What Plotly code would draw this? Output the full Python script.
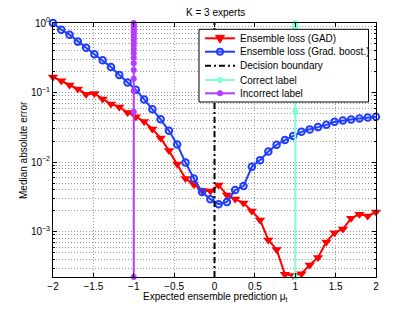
import plotly.graph_objects as go

# ---------------- data ----------------
x_pred = [-2.000, -1.897, -1.795, -1.692, -1.590, -1.487, -1.385, -1.282, -1.179, -1.077,
          -0.974, -0.872, -0.769, -0.667, -0.564, -0.462, -0.359, -0.256, -0.154, -0.051,
          0.051, 0.154, 0.256, 0.359, 0.462, 0.564, 0.667, 0.769, 0.872, 0.974,
          1.077, 1.179, 1.282, 1.385, 1.487, 1.590, 1.692, 1.795, 1.897, 2.000]

loss_gad = [0.168, 0.148, 0.129, 0.1127, 0.0948, 0.0970, 0.0812, 0.0686, 0.0623, 0.0518,
            0.0451, 0.0385, 0.0299, 0.0222, 0.01466, 0.0094, 0.00582, 0.00477, 0.00392, 0.00385,
            0.00469, 0.00337, 0.00296, 0.00259, 0.00199, 0.00148, 0.000762, 0.000557, 0.000245, 0.000236,
            0.000250, 0.000334, 0.000428, 0.000714, 0.000970, 0.001096, 0.00156, 0.00179, 0.00169, 0.00192]

loss_gb = [1.0, 0.80, 0.68, 0.54, 0.44, 0.356, 0.292, 0.234, 0.179, 0.140,
           0.110, 0.0796, 0.0578, 0.0413, 0.0282, 0.0179, 0.00987, 0.00582, 0.00373, 0.00294,
           0.00249, 0.00268, 0.00398, 0.00454, 0.00859, 0.0107, 0.0142, 0.0178, 0.0208, 0.0237,
           0.0273, 0.0296, 0.0319, 0.0344, 0.0380, 0.0398, 0.0411, 0.0425, 0.0439, 0.0448]

label_line_y = [0.000224, 0.0529, 0.1055, 0.1581, 0.2107, 0.2633, 0.3159, 0.3685, 0.4211, 0.4737,
                0.5264, 0.5790, 0.6316, 0.6842, 0.7368, 0.7894, 0.8420, 0.8946, 0.9473, 1.0]
boundary_x = 0.0
correct_x = 1.0
incorrect_x = -1.0
boundary_y = [0.000224, 1.0]

x_ticks = [-2, -1.5, -1, -0.5, 0, 0.5, 1, 1.5, 2]
y_ticks = [1e-3, 1e-2, 1e-1, 1]
y_ticktext = ["10<sup>\u22123</sup>", "10<sup>\u22122</sup>", "10<sup>\u22121</sup>", "10<sup>0</sup>"]
y_minor = [m * 10 ** e for e in (-4, -3, -2, -1) for m in range(2, 10)]

legend_names = ["Ensemble loss (GAD)", "Ensemble loss (Grad. boost.)", "Decision boundary",
                "Correct label", "Incorrect label"]

RED = "#ff0000"
BLUE = "#1f3dff"
BLACK = "#000000"
CYAN = "#7fffd4"
PURPLE = "#b43cff"
GRID = "#9a9a9a"
DOT = "1px,2px"
FONT = "Liberation Sans, Arial, sans-serif"

fig = go.Figure()
fig.add_trace(go.Scatter(x=x_pred, y=loss_gad, mode="lines+markers", name=legend_names[0],
                         line=dict(color=RED, width=2),
                         marker=dict(symbol="triangle-down", size=9, color=RED),
                         cliponaxis=False))
fig.add_trace(go.Scatter(x=x_pred, y=loss_gb, mode="lines+markers", name=legend_names[1],
                         line=dict(color=BLUE, width=2),
                         marker=dict(symbol="circle-open", size=6.5, color=BLUE, line=dict(width=2, color=BLUE)),
                         cliponaxis=False))
fig.add_trace(go.Scatter(x=[boundary_x] * len(boundary_y), y=boundary_y, mode="lines", name=legend_names[2],
                         line=dict(color=BLACK, width=2, dash="6px,3px,2px,3px")))
fig.add_trace(go.Scatter(x=[correct_x] * len(label_line_y), y=label_line_y, mode="lines+markers",
                         name=legend_names[3], line=dict(color=CYAN, width=2),
                         marker=dict(symbol="circle", size=6, color=CYAN), cliponaxis=False))
fig.add_trace(go.Scatter(x=[incorrect_x] * len(label_line_y), y=label_line_y, mode="lines+markers",
                         name=legend_names[4], line=dict(color=PURPLE, width=2),
                         marker=dict(symbol="circle", size=6, color=PURPLE), cliponaxis=False))

# ---------------- layout geometry (pixels) ----------------
W, H = 415, 312
L, R, T, B = 53, 39, 23, 35
PW, PH = W - L - R, H - T - B


def px(xp):
    return (xp - L) / PW


def py(yp):
    return 1 - (yp - T) / PH


shapes = []
annotations = []
# custom legend box
shapes.append(dict(type="rect", xref="paper", yref="paper", x0=px(199), x1=px(368.5), y0=py(102), y1=py(29.3),
                   line=dict(color="black", width=1), fillcolor="white", layer="above"))
rows = [38.3, 51.7, 65.7, 80.0, 93.3]
colors = [RED, BLUE, BLACK, CYAN, PURPLE]
for i, (yy, c, name) in enumerate(zip(rows, colors, legend_names)):
    dash = "6px,3px,2px,3px" if i == 2 else "solid"
    shapes.append(dict(type="line", xref="paper", yref="paper", x0=px(205), x1=px(235), y0=py(yy), y1=py(yy),
                       line=dict(color=c, width=2, dash=dash), layer="above"))
    if i == 0:
        shapes.append(dict(type="path", xref="paper", yref="paper", xsizemode="pixel", ysizemode="pixel",
                           xanchor=px(220), yanchor=py(yy), path="M-4.5,3 L4.5,3 L0,-4.8 Z",
                           fillcolor=c, line=dict(color=c, width=1), layer="above"))
    elif i == 1:
        shapes.append(dict(type="circle", xref="paper", yref="paper", xsizemode="pixel", ysizemode="pixel",
                           xanchor=px(220), yanchor=py(yy), x0=-3, x1=3, y0=-3, y1=3,
                           fillcolor="rgba(0,0,0,0)", line=dict(color=c, width=2), layer="above"))
    elif i >= 3:
        shapes.append(dict(type="circle", xref="paper", yref="paper", xsizemode="pixel", ysizemode="pixel",
                           xanchor=px(220), yanchor=py(yy), x0=-3, x1=3, y0=-3, y1=3,
                           fillcolor=c, line=dict(color=c, width=0), layer="above"))
    annotations.append(dict(xref="paper", yref="paper", x=px(238), y=py(yy), text=name, showarrow=False,
                            xanchor="left", yanchor="middle", font=dict(size=10, color="black", family=FONT)))

# titles
annotations.append(dict(xref="paper", yref="paper", x=px(215), y=py(12.5), text="K = 3 experts",
                        showarrow=False, xanchor="center", yanchor="middle",
                        font=dict(size=10, color="black", family=FONT)))
annotations.append(dict(xref="paper", yref="paper", x=px(215), y=py(297), text="Expected ensemble prediction \u03bc<sub>t</sub>",
                        showarrow=False, xanchor="center", yanchor="middle",
                        font=dict(size=10, color="black", family=FONT)))
annotations.append(dict(xref="paper", yref="paper", x=px(23), y=py(150), text="Median absolute error",
                        showarrow=False, xanchor="center", yanchor="middle", textangle=-90,
                        font=dict(size=10, color="black", family=FONT)))

fig.update_layout(
    template="none",
    width=W, height=H, margin=dict(l=L, r=R, t=T, b=B, pad=0, autoexpand=False),
    paper_bgcolor="white", plot_bgcolor="white", showlegend=False,
    font=dict(family=FONT, size=10, color="black"),
    shapes=shapes, annotations=annotations,
    xaxis=dict(range=[-2, 2], tickvals=x_ticks, ticks="inside", ticklen=4, tickcolor="black", tickwidth=1,
               showline=True, linecolor="black", linewidth=1, mirror="ticks", automargin=False,
               showgrid=True, gridcolor=GRID, griddash=DOT, gridwidth=1, zeroline=False,
               tickfont=dict(size=10, family=FONT)),
    yaxis=dict(type="log", range=[-3.65, 0], tickvals=y_ticks, ticktext=y_ticktext,
               ticks="inside", ticklen=4, tickcolor="black", tickwidth=1, automargin=False,
               showline=True, linecolor="black", linewidth=1, mirror="ticks",
               showgrid=True, gridcolor=GRID, griddash=DOT, gridwidth=1, zeroline=False,
               tickfont=dict(size=10, family=FONT),
               minor=dict(tickmode="array", tickvals=y_minor, ticks="inside", ticklen=2, tickcolor="black",
                          showgrid=True, gridcolor=GRID, griddash=DOT, gridwidth=1)),
)

fig.write_html("out.html", config={"displayModeBar": False},
               post_script="document.body.style.margin='0';document.body.style.overflow='hidden';")
